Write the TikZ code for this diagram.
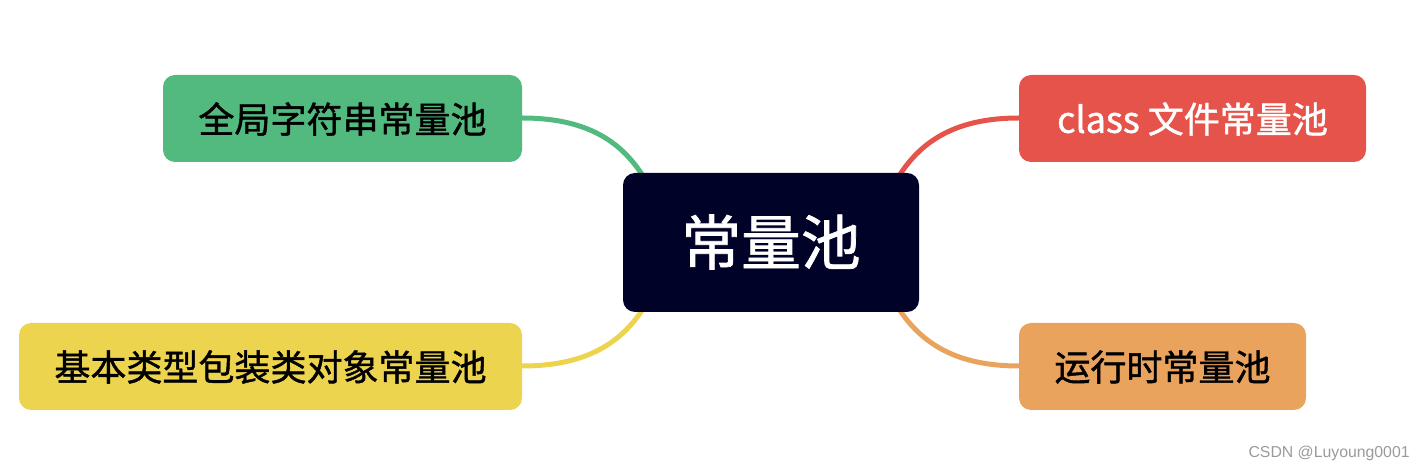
\documentclass[tikz,border=0pt]{standalone}
\usepackage{fontspec}
\newfontfamily\cjk{Noto Sans CJK SC}[FakeBold=1.2]
\newfontfamily\wm{Liberation Sans}
\definecolor{cgreen}{HTML}{52B97F}
\definecolor{cred}{HTML}{E5534A}
\definecolor{cyellow}{HTML}{EDD44E}
\definecolor{corange}{HTML}{EAA35D}
\definecolor{cnavy}{HTML}{000228}
\definecolor{cgray}{HTML}{9A9A9A}
\tikzset{
  leaf/.style={inner sep=0pt, font=\cjk\fontsize{20.5}{24}\selectfont},
  boxfill/.style={rounded corners=0.24cm},
  link/.style={line width=0.1cm, line cap=round}
}
\begin{document}
\begin{tikzpicture}[x=0.02cm,y=-0.02cm]
\useasboundingbox (0,0) rectangle (1424,472);
% connectors first (behind boxes)
\coordinate (g1) at (522,118);
\coordinate (g2) at (643,176);
\coordinate (r1) at (1019,118);
\coordinate (r2) at (899,176);
\coordinate (y1) at (522,366);
\coordinate (y2) at (643,309);
\coordinate (o1) at (1019,366);
\coordinate (o2) at (899,309);
\draw[link, cgreen] (g1) .. controls (585,118) and (620,140) .. (g2);
\draw[link, cred] (r1) .. controls (957,118) and (922,140) .. (r2);
\draw[link, cyellow] (y1) .. controls (585,366) and (620,344) .. (y2);
\draw[link, corange] (o1) .. controls (957,366) and (922,344) .. (o2);
% boxes
\fill[boxfill, cnavy] (623,173) rectangle (919,312);
\node[inner sep=0pt, text=white, font=\cjk\fontsize{34}{38}\selectfont] (root) at (771,242) {常量池};
\fill[boxfill, cgreen] (163,75) rectangle (522,162);
\node[leaf] (n1) at (342.5,119) {全局字符串常量池};
\fill[boxfill, cred] (1019,75) rectangle (1366,162);
\node[leaf, text=white] (n2) at (1192.5,119) {class 文件常量池};
\fill[boxfill, cyellow] (19,323) rectangle (522,410);
\node[leaf] (n3) at (270.5,367) {基本类型包装类对象常量池};
\fill[boxfill, corange] (1019,323) rectangle (1306,410);
\node[leaf] (n4) at (1162.5,367) {运行时常量池};
\node[text=cgray, inner sep=0pt, font=\wm\fontsize{9}{11}\selectfont, anchor=east] (wmk) at (1410,453) {CSDN @Luyoung0001};
\end{tikzpicture}
\end{document}
